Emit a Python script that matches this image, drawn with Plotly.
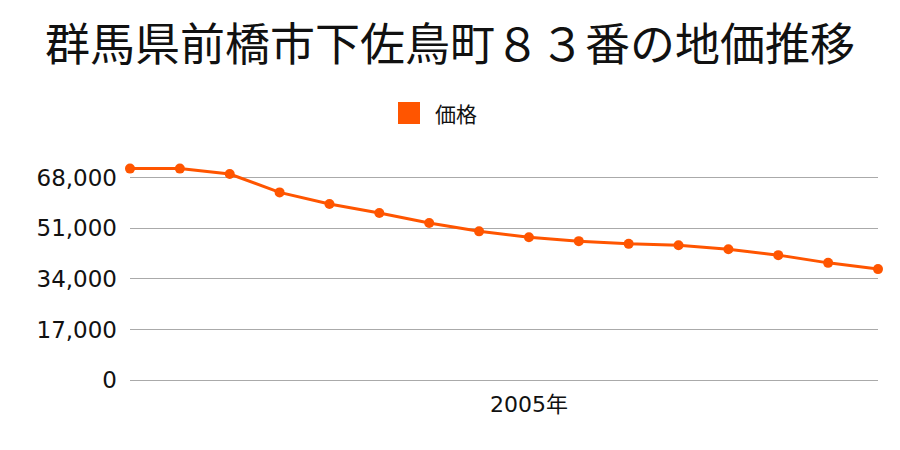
import plotly.graph_objects as go

years = list(range(1997, 2013))
prices = [71100, 71100, 69300, 63100, 59200, 56200, 52800, 50000,
          48000, 46700, 45800, 45300, 44000, 42000, 39400, 37300]
y_ticks = [0, 17000, 34000, 51000, 68000]
y_tick_labels = ["0", "17,000", "34,000", "51,000", "68,000"]
x_tick_vals = [2005]
x_tick_labels = ["2005年"]

title = "群馬県前橋市下佐鳥町８３番の地価推移"
series_name = "価格"
color = "#FF5500"
font = "Noto Sans CJK JP"
tick_font = "DejaVu Sans, Noto Sans CJK JP"

fig = go.Figure()
fig.add_trace(go.Scatter(
    x=years, y=prices, mode="lines+markers", name=series_name,
    line=dict(color=color, width=3),
    marker=dict(color=color, size=10),
    cliponaxis=False, showlegend=False,
))

fig.update_layout(
    width=900, height=450,
    margin=dict(l=130, r=22, t=160, b=70),
    paper_bgcolor="white", plot_bgcolor="white",
    font=dict(family=font, color="#111111"),
    title=dict(text=title, x=0.5, xanchor="center", y=0.9, yanchor="middle",
               font=dict(size=45, family=font, color="#111111")),
    xaxis=dict(range=[years[0], years[-1]], tickvals=x_tick_vals, ticktext=x_tick_labels,
               showgrid=False, zeroline=False, showline=False, ticks="",
               tickfont=dict(size=22, family=tick_font), ticklabelstandoff=9),
    yaxis=dict(range=[0, 74000], tickvals=y_ticks, ticktext=y_tick_labels,
               showgrid=True, gridcolor="#aaaaaa", gridwidth=1,
               zeroline=True, zerolinecolor="#aaaaaa", zerolinewidth=1,
               showline=False, ticks="", tickfont=dict(size=23, family=tick_font),
               ticklabelstandoff=12),
    shapes=[dict(type="rect", xref="paper", yref="paper",
                 x0=(398 - 130) / 748, x1=(420 - 130) / 748,
                 y0=1 + (160 - 124) / 220, y1=1 + (160 - 102) / 220,
                 fillcolor=color, line=dict(width=0))],
    annotations=[dict(text=series_name, xref="paper", yref="paper",
                      x=(433 - 130) / 748, y=1 + (160 - 113) / 220,
                      xanchor="left", yanchor="middle", showarrow=False,
                      font=dict(size=21, family=font, color="#111111"))],
)

fig.write_html("out.html")
